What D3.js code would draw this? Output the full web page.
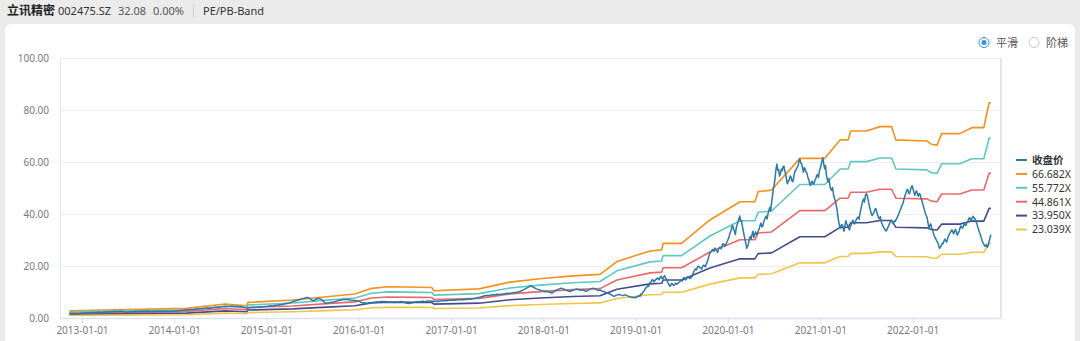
<!DOCTYPE html>
<html>
<head>
<meta charset="utf-8">
<script src="https://cdn.jsdelivr.net/npm/d3@7"></script>
<style>
  html, body { margin: 0; padding: 0; background: #ebebeb; overflow: hidden; }
  svg { display: block; }
  text { font-family: "Noto Sans", "Noto Sans CJK SC", sans-serif; }
</style>
</head>
<body>
<svg id="chart" width="1080" height="341"></svg>
<script>
// ---- Stock header ----
const stockName = "立讯精密";
const stockCode = "002475.SZ";
const lastPrice = "32.08";
const changePct = "0.00%";
const viewName = "PE/PB-Band";
const modeOptions = ["平滑", "阶梯"];

// ---- Trailing EPS (per share) at band knot dates ----
const bandDates = ["2012-11-12","2014-02-19","2014-07-21","2014-10-15","2014-10-20","2015-04-16","2015-08-27","2015-12-17","2016-02-21","2016-04-26","2016-08-30","2016-10-17","2016-10-25","2017-04-21","2017-08-22","2017-12-18","2018-04-28","2018-08-13","2018-10-19","2019-02-27","2019-04-14","2019-04-20","2019-07-02","2019-10-22","2020-02-18","2020-04-17","2020-04-30","2020-06-22","2020-10-12","2021-01-19","2021-03-20","2021-04-21","2021-05-01","2021-07-03","2021-08-25","2021-10-10","2021-10-27","2022-02-26","2022-03-17","2022-04-08","2022-04-26","2022-07-07","2022-08-23","2022-10-10","2022-10-31","2022-11-07"];
const bandEps = [0.0420,0.0555,0.0810,0.0705,0.0900,0.1035,0.1230,0.1380,0.1710,0.1800,0.1770,0.1755,0.1575,0.1680,0.2070,0.2264,0.2429,0.2519,0.3254,0.3869,0.3929,0.4304,0.4304,0.5654,0.6703,0.6703,0.7288,0.7378,0.9208,0.9208,1.0273,1.0273,1.0783,1.0783,1.1038,1.1038,1.0273,1.0213,1.0018,0.9973,1.0633,1.0633,1.0978,1.0978,1.2417,1.2417];

// PE multiples of the bands
const bandMultiples = [66.682, 55.772, 44.861, 33.950, 23.039];
const bandLabels = ["66.682X", "55.772X", "44.861X", "33.950X", "23.039X"];
const bandColors = ["#f7901e", "#5fc7c4", "#ec6868", "#454c8e", "#efc64c"];

// ---- Closing price ----
const closeName = "收盘价";
const closeColor = "#2a79a8";

// weekly closes (Mondays), 2012-2018
const weeklyStarts = ["2012-11-12","2013-01-07","2014-01-06","2015-01-05","2016-01-04","2017-01-02","2018-01-01"];
const close2012 = [1.72,1.68,1.70,1.64,1.60,1.66,1.74,1.80];
const close2013 = [1.86,1.92,1.98,1.95,2.02, 2.08,2.05,2.12,2.18, 2.22,2.15,2.20,2.28, 2.34,2.30,2.38,2.45, 2.50,2.56,2.48,2.52,2.60, 2.55,2.42,2.35,2.30, 2.38,2.44,2.40,2.48, 2.55,2.50,2.58,2.62,2.56, 2.60,2.66,2.58,2.52, 2.48,2.55,2.60,2.56, 2.62,2.68,2.64,2.70,2.66, 2.60,2.55,2.62,2.68];
const close2014 = [2.72,2.80,2.86,2.92,3.00, 3.08,3.15,3.10,3.20, 3.28,3.20,3.35,3.42, 3.50,3.58,3.52,3.65, 3.72,3.80,3.74,3.88,3.95, 4.02,4.10,4.05,4.20, 4.30,4.42,4.50,4.45, 4.55,4.48,4.60,4.52,4.45, 4.50,4.38,4.30,4.20, 4.05,3.92,3.85,3.95, 4.02,4.10,4.05,4.15,4.22, 4.30,4.25,4.38,4.45];
const close2015 = [4.50,4.62,4.70,4.65,4.80, 4.92,5.05,5.00,5.15, 5.30,5.45,5.60,5.75, 5.95,6.20,6.45,6.60, 6.80,7.00,7.25,7.45,7.60, 7.75,7.85,7.50,6.90, 6.60,7.10,7.40,7.55, 7.30,6.80,6.20,5.60,5.80, 5.90,6.10,6.00,6.30, 6.50,6.70,6.85,6.95, 7.10,7.20,7.15,7.05,6.90, 6.80,6.70,6.75,6.60];
const close2016 = [6.40,6.00,5.80,5.85,5.70, 5.75,5.90,5.95,6.05, 6.10,6.25,6.20,6.30, 6.35,6.25,6.30,6.20, 6.10,6.05,6.15,6.00,6.10, 6.20,6.30,6.25,6.10, 5.90,5.70,5.60,5.75, 5.90,6.05,6.20,6.30,6.25, 6.35,6.40,6.30,6.45, 6.50,6.55,6.45,6.40, 6.30,6.35,6.45,6.55,6.60, 6.70,6.65,6.75,6.80];
const close2017 = [6.85,6.90,6.80,6.95,7.00, 7.05,7.10,7.00,7.15, 7.20,7.30,7.25,7.40, 7.55,7.70,7.90,8.00, 8.20,8.40,8.55,8.70,8.65, 8.80,8.90,8.85,9.00, 9.10,9.00,9.15,9.20, 9.30,9.40,9.50,9.45,9.60, 9.70,9.80,9.90,10.10, 10.30,10.60,10.90,11.30, 11.70,12.10,12.30,12.00,11.60, 11.20,11.00,10.80,10.50];
const close2018 = [10.40,10.10,10.30,10.00,9.80, 9.60,10.20,10.60,10.90, 11.20,11.50,11.30,11.00, 10.70,10.40,10.20,10.50, 10.80,11.00,11.20,10.90,10.70, 10.90,10.60,10.30,10.50, 10.90,11.30,11.50,11.20, 10.90,10.60,10.80,10.40,10.20, 9.90,9.60,9.40,9.10, 8.60,8.30,8.70,8.90, 9.00,8.80,8.60,8.90,8.70, 8.40,8.20,7.90,8.00,7.80];

// twice-weekly closes (Monday, Thursday), 2019-2022
const halfWeekStarts = ["2019-01-07","2020-01-06","2021-01-04","2022-01-03"];
const close2019 = [8.1,8.4, 8.6,8.3, 9.2,9.0, 9.6,10.1, 10.4,11.2, 11.6,11.9, 12.4,12.1, 13.2,13.8, 14.0,14.8, 14.6,13.9, 14.3,14.9, 14.9,15.4, 15.2,14.7, 15.6,16.1, 15.3,15.0, 15.9,16.3, 15.5,15.1, 14.2,13.4, 12.8,12.2, 12.6,13.3, 13.1,12.5, 12.7,13.1, 13.4,13.0, 13.2,13.7, 13.8,14.3, 14.6,14.2, 15.2,15.6, 14.9,14.6, 15.4,15.9, 15.7,15.3, 15.2,15.6, 16.0,16.9, 17.8,18.4, 18.9,18.5, 19.4,19.9, 19.9,19.3, 19.2,18.8, 19.8,20.3, 20.2,19.7, 20.6,21.3, 22.4,23.6, 24.8,25.3, 25.6,26.2, 26.4,25.7, 26.9,26.3, 25.8,25.2, 26.5,27.1, 27.2,26.6, 27.9,28.6, 28.4,27.6, 28.0,28.9, 29.6,30.4];
const close2020 = [31.2,32.6, 33.5,34.9, 35.6,34.2, 33.4,32.1, 34.6,35.9, 36.8,38.1, 39.2,37.3, 37.5,35.2, 33.6,31.8, 30.2,28.4, 26.8,27.6, 28.9,30.5, 31.4,30.3, 32.2,33.4, 31.0,32.1, 33.1,32.0, 32.5,33.6, 34.2,35.6, 36.5,35.1, 35.3,36.8, 37.8,38.7, 39.2,38.1, 40.1,41.4, 42.5,41.2, 44.3,46.8, 49.6,51.4, 53.8,57.2, 59.2,56.8, 57.1,54.6, 55.4,57.3, 56.6,58.2, 58.4,56.5, 55.2,53.0, 51.6,52.9, 53.0,54.6, 54.2,52.8, 52.4,54.0, 55.8,56.9, 57.2,58.1, 58.6,60.3, 61.2,59.6, 59.4,57.7, 56.1,57.8, 57.3,56.0, 55.8,54.1, 53.2,51.8, 51.0,52.3, 52.6,51.5, 51.8,53.1, 53.5,54.8, 55.2,54.0, 56.4,57.6];
const close2021 = [58.8,60.4, 61.6,59.3, 57.4,58.6, 55.0,53.4, 52.3,53.6, 50.8,49.5, 49.1,50.2, 47.6,46.1, 45.2,43.6, 41.8,39.2, 36.9,35.3, 34.5,35.9, 35.8,34.4, 33.4,35.6, 37.4,36.1, 35.6,34.7, 33.9,35.0, 35.8,37.0, 37.6,36.4, 36.2,37.3, 37.9,38.6, 38.8,38.0, 40.3,41.7, 43.6,44.9, 45.8,44.6, 46.9,47.8, 47.4,45.8, 44.1,42.5, 41.2,39.8, 39.4,40.2, 40.8,41.9, 42.0,40.7, 39.6,38.5, 38.2,39.0, 37.0,36.2, 35.4,34.6, 34.2,33.5, 33.6,34.5, 35.1,36.0, 36.8,37.6, 37.4,36.6, 36.5,37.4, 37.2,38.0, 38.6,39.4, 40.2,41.3, 41.8,42.9, 43.5,44.7, 45.9,47.2, 48.2,49.3, 49.4,48.1, 47.8,49.2, 50.3,50.9];
const close2022 = [49.6,48.3, 47.2,48.4, 48.9,47.6, 46.8,47.9, 47.5,46.2, 45.1,43.8, 42.6,41.4, 40.2,39.3, 38.5,36.4, 34.4,35.5, 36.2,34.9, 33.8,32.6, 31.6,30.8, 30.2,29.4, 29.0,27.8, 26.8,27.3, 27.9,28.7, 28.6,29.7, 30.4,29.6, 29.2,30.5, 31.5,32.2, 32.8,33.5, 33.9,33.0, 32.4,33.5, 34.1,33.0, 31.9,32.6, 33.2,34.5, 35.4,34.8, 34.6,35.5, 36.2,35.6, 35.8,36.8, 37.4,38.2, 38.6,37.6, 37.9,38.7, 39.1,38.4, 38.2,37.3, 36.4,35.2, 34.1,33.0, 32.2,31.0, 29.8,29.0, 28.4,27.7, 27.6,28.3, 27.2,28.1, 29.6,30.8, 32.08];

// ---- Axis ticks ----
const xTickLabels = ["2013-01-01","2014-01-01","2015-01-01","2016-01-01","2017-01-01","2018-01-01","2019-01-01","2020-01-01","2021-01-01","2022-01-01"];
const yTickValues = [0, 20, 40, 60, 80, 100];
const xDomain = ["2012-10-06", "2022-12-17"];

// ---------------------------------------------------------------
const parse = d3.utcParse("%Y-%m-%d");
const svg = d3.select("#chart");

// page header
const header = svg.append("g");
header.append("text").attr("x", 7).attr("y", 15)
  .attr("font-size", 12).attr("font-weight", 700).attr("fill", "#222")
  .attr("font-family", "'Noto Sans CJK SC', sans-serif").text(stockName);
header.append("text").attr("x", 58).attr("y", 14.5).attr("font-size", 11).attr("fill", "#333").text(stockCode);
header.append("text").attr("x", 118).attr("y", 14.5).attr("font-size", 11).attr("fill", "#555").text(lastPrice);
header.append("text").attr("x", 153).attr("y", 14.5).attr("font-size", 11).attr("fill", "#555").text(changePct);
header.append("line").attr("x1", 193.5).attr("x2", 193.5).attr("y1", 4).attr("y2", 17).attr("stroke", "#cfcfcf");
header.append("text").attr("x", 203).attr("y", 14.5).attr("font-size", 11).attr("fill", "#333").text(viewName);

// white card
svg.append("rect").attr("x", 5).attr("y", 24).attr("width", 1070).attr("height", 330)
  .attr("rx", 6).attr("fill", "#fff");

// mode switch (radio buttons)
const radio = svg.append("g");
[[984, true], [1034, false]].forEach(([cx, on], i) => {
  radio.append("circle").attr("cx", cx).attr("cy", 42.5).attr("r", 5)
    .attr("fill", "#fff").attr("stroke", on ? "#2f95dc" : "#c8c8c8").attr("stroke-width", 1);
  if (on) radio.append("circle").attr("cx", cx).attr("cy", 42.5).attr("r", 2.5).attr("fill", "#2f95dc");
  radio.append("text").attr("x", cx + 12).attr("y", 46.5).attr("font-size", 11)
    .attr("fill", "#555").attr("font-family", "'Noto Sans CJK SC', sans-serif").text(modeOptions[i]);
});

// scales
const plot = { left: 60, right: 1001, top: 58, bottom: 318 };
const x = d3.scaleUtc().domain(xDomain.map(parse)).range([plot.left, plot.right]);
const y = d3.scaleLinear().domain([0, 100]).range([plot.bottom, plot.top]);

// grid
svg.append("g").selectAll("line").data(yTickValues.filter(v => v > 0)).join("line")
  .attr("x1", plot.left).attr("x2", plot.right)
  .attr("y1", d => y(d) + 0.5).attr("y2", d => y(d) + 0.5)
  .attr("stroke", "#eeeeee");
svg.append("line").attr("x1", plot.right).attr("x2", plot.right).attr("y1", plot.top).attr("y2", plot.bottom)
  .attr("stroke", "#e6e6e6").attr("stroke-width", 2);

// y axis
const yAxis = d3.axisLeft(y).tickValues(yTickValues).tickFormat(d3.format(".2f")).tickSize(0).tickPadding(11);
const gy = svg.append("g").attr("transform", `translate(${plot.left},0)`).call(yAxis);
gy.select(".domain").attr("stroke", "#dfe4ef");
gy.selectAll("text").attr("font-size", 10).attr("fill", "#7a7a7a")
  .attr("font-family", "'Noto Sans', sans-serif");

// x axis
const xAxis = d3.axisBottom(x).tickValues(xTickLabels.map(parse))
  .tickFormat(d3.utcFormat("%Y-%m-%d")).tickSize(5).tickSizeOuter(0).tickPadding(4);
const gx = svg.append("g").attr("transform", `translate(0,${plot.bottom})`).call(xAxis);
gx.select(".domain").attr("stroke", "#dbe1ee").attr("stroke-width", 1.5);
gx.selectAll(".tick line").attr("stroke", "#d6dcea");
gx.selectAll("text").attr("font-size", 10).attr("fill", "#7a7a7a")
  .attr("font-family", "'Noto Sans', sans-serif");

// series
svg.append("clipPath").attr("id", "plotClip").append("rect")
  .attr("x", plot.left).attr("y", plot.top - 2).attr("width", plot.right - plot.left).attr("height", plot.bottom - plot.top + 2);
const lines = svg.append("g").attr("clip-path", "url(#plotClip)");

const knotDates = bandDates.map(parse);
const lineGen = d3.line().x(d => x(d[0])).y(d => y(d[1])).curve(d3.curveLinear);

// bands: PE multiple x trailing EPS
bandMultiples.forEach((m, i) => {
  const pts = knotDates.map((d, k) => [d, m * bandEps[k]]);
  lines.append("path").datum(pts).attr("d", lineGen)
    .attr("fill", "none").attr("stroke", bandColors[i]).attr("stroke-width", 1.6)
    .attr("stroke-linejoin", "round");
});

// closing price: weekly part, then twice-weekly part (84 h apart)
const closePts = [];
[close2012, close2013, close2014, close2015, close2016, close2017, close2018].forEach((arr, yi) => {
  const start = parse(weeklyStarts[yi]);
  arr.forEach((v, k) => closePts.push([d3.utcDay.offset(start, 7 * k), v]));
});
[close2019, close2020, close2021, close2022].forEach((arr, yi) => {
  const start = parse(halfWeekStarts[yi]);
  arr.forEach((v, k) => closePts.push([d3.utcHour.offset(start, 84 * k), v]));
});
lines.append("path").datum(closePts).attr("d", lineGen)
  .attr("fill", "none").attr("stroke", closeColor).attr("stroke-width", 1.5)
  .attr("stroke-linejoin", "round");

// legend
const legendNames = [closeName].concat(bandLabels);
const legendColors = [closeColor].concat(bandColors);
const legend = svg.append("g");
legendNames.forEach((name, i) => {
  const ly = 160 + i * 13.9;
  legend.append("line").attr("x1", 1016).attr("x2", 1027).attr("y1", ly).attr("y2", ly)
    .attr("stroke", legendColors[i]).attr("stroke-width", 2);
  legend.append("text").attr("x", 1032).attr("y", ly + 3.8).attr("font-size", 10.5)
    .attr("fill", "#333").attr("font-weight", i === 0 ? 700 : 400)
    .attr("font-family", i === 0 ? "'Noto Sans CJK SC', sans-serif" : "'Noto Sans', sans-serif")
    .text(name);
});
</script>
</body>
</html>
